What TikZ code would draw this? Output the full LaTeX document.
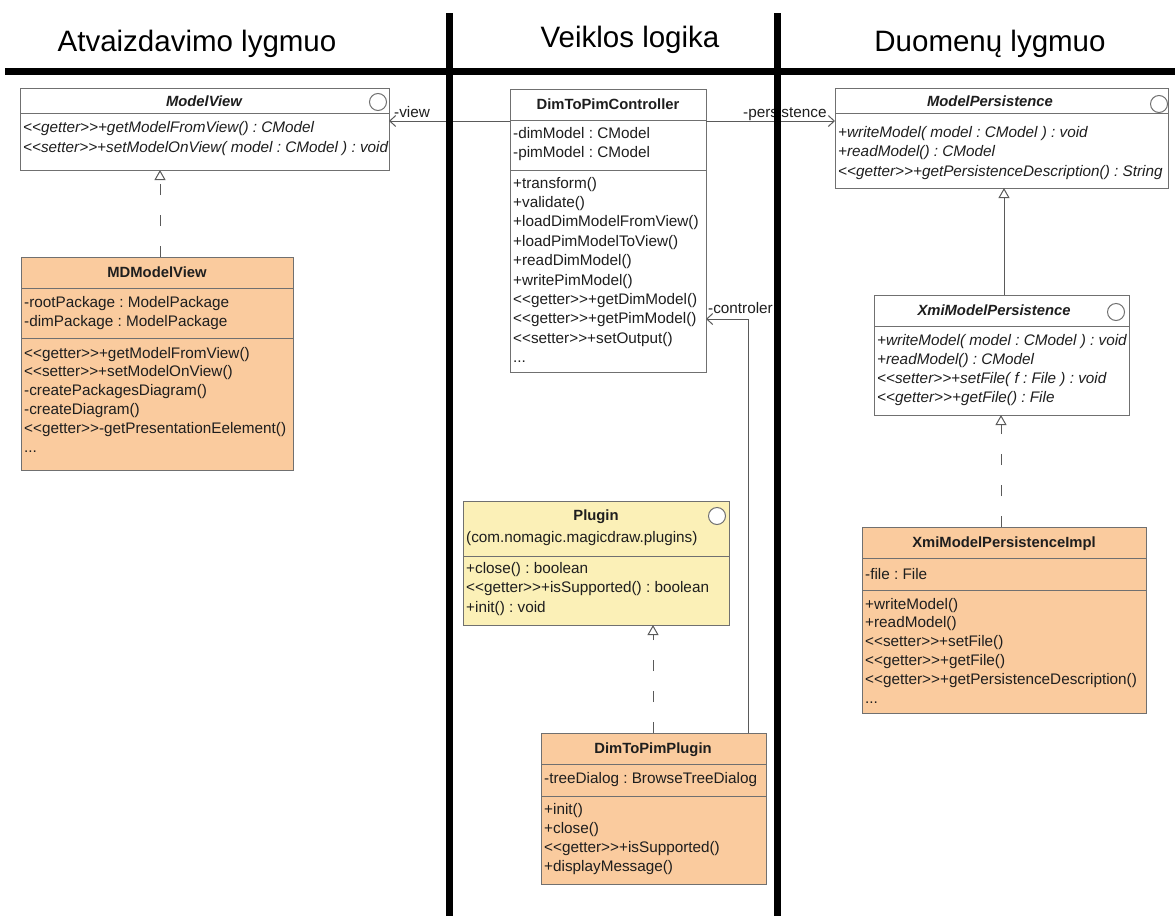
\documentclass[tikz,border=0pt]{standalone}
\usepackage{fontspec}
\setmainfont{Liberation Sans}
\usetikzlibrary{arrows.meta}
\frenchspacing

\definecolor{boxline}{RGB}{112,112,112}
\definecolor{implfill}{RGB}{250,203,158}
\definecolor{libfill}{RGB}{251,240,183}
\definecolor{ink}{RGB}{30,30,30}
\definecolor{wire}{RGB}{90,90,90}

% stereotype brackets, kept apart so no guillemet ligature forms
\newcommand\stereo[1]{<{}<#1>{}>}
% trailing "more operations" marker
\newcommand\moreops{.\kern0pt.\kern0pt.}

\tikzset{
  classbox/.style={draw=boxline, line width=1pt, rectangle, anchor=north west,
    inner sep=0pt, outer sep=0pt},
  divider/.style={draw=boxline, line width=1pt},
  mline/.style={anchor=base west, inner sep=0pt, text=ink,
    font=\fontsize{15.3}{18}\selectfont},
  ital/.style={font=\itshape\fontsize{15.3}{18}\selectfont},
  ctitle/.style={anchor=base, inner sep=0pt, text=ink,
    font=\bfseries\fontsize{14.8}{18}\selectfont},
  atitle/.style={ctitle, font=\bfseries\itshape\fontsize{14.8}{18}\selectfont},
  iface/.style={circle, draw=boxline, line width=1pt, fill=white,
    minimum size=17pt, inner sep=0pt},
  assoc/.style={draw=wire, line width=1pt, -{Straight Barb[length=6pt,width=11pt]}},
  inherit/.style={draw=wire, line width=1pt,
    -{Triangle[open, length=10pt, width=11pt, fill=white]}},
  realize/.style={inherit, dash pattern=on 11pt off 20pt},
  lane/.style={draw=black, line width=7pt},
  lanetitle/.style={anchor=base, inner sep=0pt, text=black,
    font=\fontsize{29.5}{34}\selectfont},
  rolelabel/.style={anchor=base west, inner sep=0pt, text=ink,
    font=\fontsize{15.3}{18}\selectfont},
}

% lines of one compartment: [style] {name prefix}{x}{first line centre y}{step}{entries}
\newcommand\complines[6][]{%
  \foreach \entry [count=\i] in {#6}
    \node[mline,#1] (#2\i) at (#3, {#4+5+#5*(\i-1)}) {\entry};%
}

\begin{document}
\begin{tikzpicture}[x=1pt, y=-1pt]
\useasboundingbox (0,0) rectangle (1175,916);
\fill[white] (0,0) rectangle (1175,916);

% ---------------- lane titles ----------------
\node[lanetitle] (laneview) at (197,51) {Atvaizdavimo lygmuo};
\node[lanetitle] (lanelogic) at (630,47) {Veiklos logika};
\node[lanetitle] (lanedata) at (990,51) {Duomenų lygmuo};

% ---------------- ModelView ----------------
\node[classbox, fill=white, minimum width=369pt, minimum height=82pt] (mv) at (20,88) {};
\draw[divider] (mv.west |- 0,113) -- (mv.east |- 0,113);
\node[atitle] (mvtitle) at (204,106) {ModelView};
\node[iface] (mvicon) at (378,102) {};
\complines[ital]{mvop}{23}{127}{20}{%
  {\stereo{getter}+getModelFromView() : CModel},
  {\stereo{setter}+setModelOnView( model : CModel ) : void}}

% ---------------- MDModelView ----------------
\node[classbox, fill=implfill, minimum width=272pt, minimum height=213pt] (mdv) at (21,257) {};
\draw[divider] (mdv.west |- 0,288) -- (mdv.east |- 0,288);
\draw[divider] (mdv.west |- 0,338) -- (mdv.east |- 0,338);
\node[ctitle] (mdvtitle) at (157,277) {MDModelView};
\complines{mdvat}{24}{302}{19}{%
  -rootPackage : ModelPackage,
  -dimPackage : ModelPackage}
\complines{mdvop}{24}{353}{18.8}{%
  {\stereo{getter}+getModelFromView()},
  {\stereo{setter}+setModelOnView()},
  -createPackagesDiagram(),
  -createDiagram(),
  {\stereo{getter}-getPresentationEelement()},
  {\moreops}}

% ---------------- DimToPimController ----------------
\node[classbox, fill=white, minimum width=196pt, minimum height=283pt] (ctl) at (510,89) {};
\draw[divider] (ctl.west |- 0,120) -- (ctl.east |- 0,120);
\draw[divider] (ctl.west |- 0,170) -- (ctl.east |- 0,170);
\node[ctitle] (ctltitle) at (608,109) {DimToPimController};
\complines{ctlat}{513}{133}{19.5}{%
  -dimModel : CModel,
  -pimModel : CModel}
\complines{ctlop}{513}{183}{19.4}{%
  +transform(),
  +validate(),
  +loadDimModelFromView(),
  +loadPimModelToView(),
  +readDimModel(),
  +writePimModel(),
  {\stereo{getter}+getDimModel()},
  {\stereo{getter}+getPimModel()},
  {\stereo{setter}+setOutput()},
  {\moreops}}

% ---------------- Plugin ----------------
\node[classbox, fill=libfill, minimum width=266pt, minimum height=124pt] (plug) at (463,501) {};
\draw[divider] (plug.west |- 0,556) -- (plug.east |- 0,556);
\node[ctitle] (plugtitle) at (596,520) {Plugin};
\node[mline] (plugpkg) at (466,542) {(com.nomagic.magicdraw.plugins)};
\node[iface] (plugicon) at (717,516) {};
\complines{plugop}{466}{568}{19.5}{%
  +close() : boolean,
  {\stereo{getter}+isSupported() : boolean},
  +init() : void}

% ---------------- DimToPimPlugin ----------------
\node[classbox, fill=implfill, minimum width=225pt, minimum height=151pt] (dpp) at (541,733) {};
\draw[divider] (dpp.west |- 0,764) -- (dpp.east |- 0,764);
\draw[divider] (dpp.west |- 0,796) -- (dpp.east |- 0,796);
\node[ctitle] (dpptitle) at (653,753) {DimToPimPlugin};
\node[mline] (dppat1) at (544,783) {-treeDialog : BrowseTreeDialog};
\complines{dppop}{544}{809}{19}{%
  +init(),
  +close(),
  {\stereo{getter}+isSupported()},
  +displayMessage()}

% ---------------- ModelPersistence ----------------
\node[classbox, fill=white, minimum width=333pt, minimum height=100pt] (mp) at (835,88) {};
\draw[divider] (mp.west |- 0,113) -- (mp.east |- 0,113);
\node[atitle] (mptitle) at (990,106) {ModelPersistence};
\node[iface] (mpicon) at (1159,104) {};
\complines[ital]{mpop}{838}{132}{19.7}{%
  +writeModel( model : CModel ) : void,
  +readModel() : CModel,
  {\stereo{getter}+getPersistenceDescription() : String}}

% ---------------- XmiModelPersistence ----------------
\node[classbox, fill=white, minimum width=255pt, minimum height=120pt] (xmp) at (874,295) {};
\draw[divider] (xmp.west |- 0,326) -- (xmp.east |- 0,326);
\node[atitle] (xmptitle) at (994,315) {XmiModelPersistence};
\node[iface] (xmpicon) at (1116,312) {};
\complines[ital]{xmpop}{877}{340}{19}{%
  +writeModel( model : CModel ) : void,
  +readModel() : CModel,
  {\stereo{setter}+setFile( f : File ) : void},
  {\stereo{getter}+getFile() : File}}

% ---------------- XmiModelPersistenceImpl ----------------
\node[classbox, fill=implfill, minimum width=284pt, minimum height=186pt] (xmpi) at (862,527) {};
\draw[divider] (xmpi.west |- 0,558) -- (xmpi.east |- 0,558);
\draw[divider] (xmpi.west |- 0,590) -- (xmpi.east |- 0,590);
\node[ctitle] (xmpititle) at (1004,547) {XmiModelPersistenceImpl};
\node[mline] (xmpiat1) at (865,579) {-file : File};
\complines{xmpiop}{865}{604}{18.8}{%
  +writeModel(),
  +readModel(),
  {\stereo{setter}+setFile()},
  {\stereo{getter}+getFile()},
  {\stereo{getter}+getPersistenceDescription()},
  {\moreops}}

% ---------------- connectors ----------------
\coordinate (rowtop) at (0,121);
\coordinate (rowctl) at (748,319);
\coordinate (gxview) at (160,0);
\coordinate (gxplug) at (653,0);
\coordinate (gxmp) at (1004,0);
\coordinate (gxxmp) at (1001,0);

\draw[assoc] (ctl.west |- rowtop) -- (mv.east |- rowtop);
\node[rolelabel] (lblview) at (394,117) {-view};

\draw[assoc] (ctl.east |- rowtop) -- (mp.west |- rowtop);
\node[rolelabel] (lblpers) at (743,117) {-persistence};

\draw[assoc] (dpp.north -| rowctl) |- (ctl.east |- rowctl);
\node[rolelabel] (lblctl) at (708,313) {-controler};

\draw[realize] (mdv.north -| gxview) -- (mv.south -| gxview);
\draw[realize] (dpp.north -| gxplug) -- (plug.south -| gxplug);
\draw[inherit] (xmp.north -| gxmp) -- (mp.south -| gxmp);
\draw[realize] (xmpi.north -| gxxmp) -- (xmp.south -| gxxmp);

% ---------------- lane separators ----------------
\draw[lane] (5,71.5) -- (1175,71.5);
\draw[lane] (449,13) -- (449,916);
\draw[lane] (777,13) -- (777,916);
\end{tikzpicture}
\end{document}
